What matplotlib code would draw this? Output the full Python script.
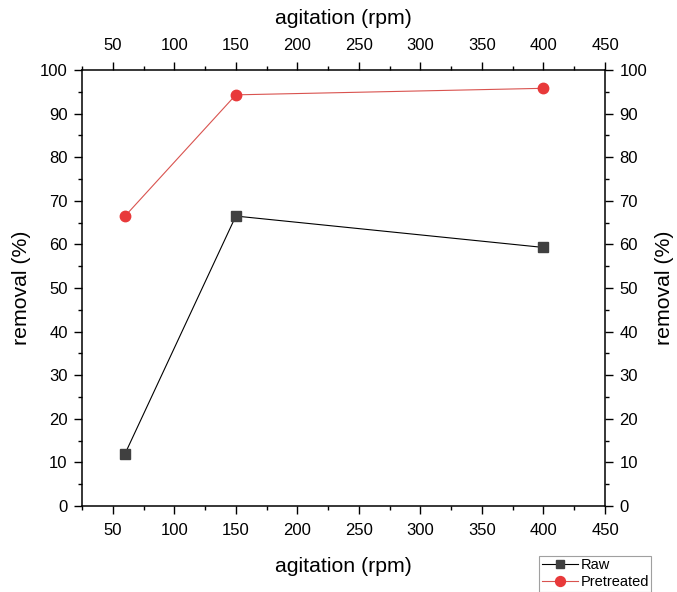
import matplotlib.pyplot as plt
from matplotlib.ticker import MultipleLocator

plt.rcParams['font.family'] = ['Liberation Sans', 'DejaVu Sans']

# 数据
agitation = [60, 150, 400]
raw = [12.0, 66.5, 59.3]
pretreated = [66.5, 94.3, 95.8]

W, H = 677, 592
fig = plt.figure(figsize=(W / 100, H / 100), dpi=100)
# 坐标轴位置（像素换算）
x0, x1, y0, y1 = 82, 605, 506, 70
ax = fig.add_axes([x0 / W, 1 - y0 / H, (x1 - x0) / W, (y0 - y1) / H])

l1, = ax.plot(agitation, raw, color='black', lw=0.8, marker='s', ms=6.8,
              mfc='#404040', mec='#404040', label='Raw')
l2, = ax.plot(agitation, pretreated, color='#d9534f', lw=0.8, marker='o', ms=7.5,
              mfc='#e8393a', mec='#e8393a', label='Pretreated')

ax.set_xlim(25, 450)
ax.set_ylim(0, 100)
ax.xaxis.set_major_locator(MultipleLocator(50))
ax.xaxis.set_minor_locator(MultipleLocator(25))
ax.yaxis.set_major_locator(MultipleLocator(10))
ax.yaxis.set_minor_locator(MultipleLocator(5))

# 四周都显示刻度
ax.tick_params(which='both', direction='out', top=True, right=True,
               labeltop=True, labelright=True, labelsize=12, width=1)
ax.tick_params(which='major', length=5.8)
ax.tick_params(which='minor', length=3)
ax.tick_params(axis='x', which='major', pad=6.5)
ax.tick_params(axis='y', which='major', pad=4.5)
for s in ax.spines.values():
    s.set_linewidth(1.1)

# 四个轴标题
fs = 15.3
fig.text((x0 + x1) / 2 / W, 1 - 566 / H, 'agitation (rpm)', fontsize=fs,
         ha='center', va='center')
fig.text((x0 + x1) / 2 / W, 1 - 18 / H, 'agitation (rpm)', fontsize=fs,
         ha='center', va='center')
fig.text(22 / W, 1 - (y0 + y1) / 2 / H, 'removal (%)', fontsize=fs,
         ha='center', va='center', rotation=90)
fig.text(665 / W, 1 - (y0 + y1) / 2 / H, 'removal (%)', fontsize=fs,
         ha='center', va='center', rotation=90)

leg = fig.legend(handles=[l1, l2], loc='lower right',
                 bbox_to_anchor=(651 / W, 0.5 / H), fontsize=10.5,
                 frameon=True, fancybox=False, handlelength=2.5,
                 handletextpad=0.15, borderpad=0.15, labelspacing=0.2,
                 borderaxespad=0, markerscale=0.95)
leg.get_frame().set_edgecolor('#888888')
leg.get_frame().set_linewidth(0.8)

fig.savefig('out.png', dpi=100)
